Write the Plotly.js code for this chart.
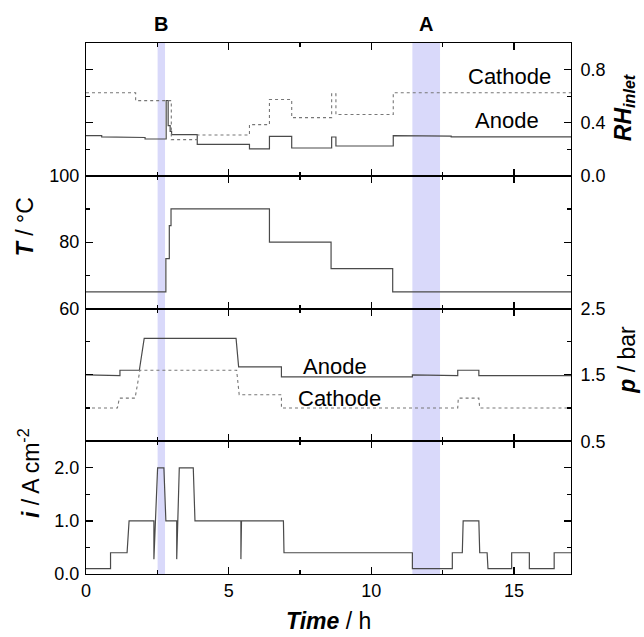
<!DOCTYPE html>
<html>
<head>
<meta charset="utf-8">
<script src="https://cdn.plot.ly/plotly-3.0.1.min.js"></script>
<style>html,body{margin:0;padding:0;background:#fff;}#chart{width:644px;height:637px;}</style>
</head>
<body>
<div id="chart"></div>
<script>
// ---- Data (time in h) ----
// Relative humidity at inlet
const rhAnodeT = [0, 0.55, 0.55, 1.19, 1.19, 2.07, 2.07, 2.81, 2.81, 2.88, 2.88, 2.95, 2.95, 3.0, 3.0, 3.90, 3.90, 5.73, 5.73, 6.43, 6.43, 7.21, 7.21, 8.61, 8.61, 8.76, 8.76, 10.77, 10.77, 12.41, 12.41, 12.8, 12.8, 14.0, 14.0, 15.5, 15.5, 17];
const rhAnodeV = [0.302, 0.302, 0.293, 0.293, 0.288, 0.288, 0.277, 0.277, 0.567, 0.567, 0.378, 0.378, 0.335, 0.335, 0.31, 0.31, 0.237, 0.237, 0.202, 0.202, 0.297, 0.297, 0.209, 0.209, 0.292, 0.292, 0.224, 0.224, 0.302, 0.302, 0.298, 0.298, 0.293, 0.293, 0.298, 0.298, 0.293, 0.293];
const rhCathodeT = [0, 1.74, 1.74, 2.77, 2.99, 2.99, 3.90, 3.90, 5.73, 5.73, 6.43, 6.43, 7.21, 7.21, 8.61, 8.61, 8.76, 8.76, 10.77, 10.77, 17];
const rhCathodeV = [0.625, 0.625, 0.566, 0.566, 0.566, 0.272, 0.272, 0.307, 0.307, 0.385, 0.385, 0.574, 0.574, 0.438, 0.438, 0.617, 0.617, 0.461, 0.461, 0.625, 0.625];
// Temperature
const tempT = [0, 2.80, 2.80, 2.92, 2.92, 2.98, 2.98, 6.43, 6.43, 8.59, 8.59, 10.75, 10.75, 17];
const tempV = [65, 65, 75, 75, 85, 85, 90, 90, 80, 80, 72, 72, 65, 65];
// Pressure
const pAnodeT = [0, 0.49, 0.49, 1.19, 1.19, 1.87, 2.04, 5.26, 5.35, 6.85, 6.85, 11.44, 11.44, 12.4, 12.4, 13.03, 13.03, 13.77, 13.77, 17];
const pAnodeV = [1.5, 1.5, 1.49, 1.49, 1.57, 1.57, 2.05, 2.05, 1.62, 1.62, 1.47, 1.47, 1.5, 1.5, 1.49, 1.49, 1.57, 1.57, 1.49, 1.49];
const pCathodeT = [0, 1.10, 1.17, 1.72, 1.89, 5.28, 5.37, 6.85, 6.85, 13.03, 13.05, 13.77, 13.80, 17];
const pCathodeV = [1.0, 1.0, 1.15, 1.15, 1.57, 1.57, 1.2, 1.2, 1.0, 1.0, 1.15, 1.15, 1.0, 1.0];
// Current density
const curT = [0, 0.86, 0.86, 1.44, 1.51, 2.38, 2.38, 2.51, 2.73, 2.80, 3.18, 3.18, 3.27, 3.76, 3.82, 5.43, 5.43, 5.45, 6.92, 6.94, 11.44, 11.44, 12.84, 12.84, 13.19, 13.22, 13.77, 13.80, 14.06, 14.09, 14.92, 14.92, 15.54, 15.54, 16.41, 16.41, 17];
const curV = [0.1, 0.1, 0.4, 0.4, 1.0, 1.0, 0.28, 2.0, 2.0, 1.0, 1.0, 0.28, 2.0, 2.0, 1.0, 1.0, 0.28, 1.0, 1.0, 0.4, 0.4, 0.1, 0.1, 0.4, 0.4, 1.0, 1.0, 0.4, 0.4, 0.1, 0.1, 0.4, 0.4, 0.1, 0.1, 0.4, 0.4];
// Highlighted intervals
const regionLabels = ['B', 'A'];
const regionStart = [2.51, 11.44];
const regionEnd = [2.77, 12.41];

const FONT = 'Liberation Sans, Arial, sans-serif';
const solid = {color: '#4a4a4a', width: 1.2};
const dotted = {color: '#777', width: 1.1, dash: 'dot'};

const traces = [
  {x: rhAnodeT, y: rhAnodeV, xaxis: 'x', yaxis: 'y', mode: 'lines', line: solid, name: 'RH anode'},
  {x: rhCathodeT, y: rhCathodeV, xaxis: 'x', yaxis: 'y', mode: 'lines', line: dotted, name: 'RH cathode'},
  {x: tempT, y: tempV, xaxis: 'x2', yaxis: 'y2', mode: 'lines', line: solid, name: 'T'},
  {x: pAnodeT, y: pAnodeV, xaxis: 'x3', yaxis: 'y3', mode: 'lines', line: solid, name: 'p anode'},
  {x: pCathodeT, y: pCathodeV, xaxis: 'x3', yaxis: 'y3', mode: 'lines', line: dotted, name: 'p cathode'},
  {x: curT, y: curV, xaxis: 'x4', yaxis: 'y4', mode: 'lines', line: solid, name: 'i'}
];

const tickFont = {family: FONT, size: 18, color: '#000'};
const LW = 1;
function xAx(anchor, labels) {
  const ax = {
    anchor: anchor, domain: [0, 1], range: [0, 17], tickmode: 'linear', tick0: 0, dtick: 5,
    ticks: 'inside', ticklen: 7, tickwidth: 1.2, tickcolor: '#000',
    minor: {ticks: 'inside', dtick: 2.5, tick0: 0, ticklen: 4, tickwidth: 1.2, tickcolor: '#000'},
    showline: true, linecolor: '#000', linewidth: LW, mirror: 'ticks',
    showgrid: false, zeroline: false, showticklabels: labels, tickfont: tickFont
  };
  if (anchor !== 'y4') ax.matches = 'x4';
  return ax;
}
function yAx(anchor, domain, range, tick0, dtick, minor, side, fmt) {
  return {
    anchor: anchor, domain: domain, range: range, side: side, tickmode: 'linear', tick0: tick0, dtick: dtick,
    ticks: 'inside', ticklen: 7, tickwidth: 1.2, tickcolor: '#000',
    minor: {ticks: 'inside', dtick: minor, tick0: tick0, ticklen: 4, tickwidth: 1.2, tickcolor: '#000'},
    showline: true, linecolor: '#000', linewidth: LW, mirror: 'ticks',
    showgrid: false, zeroline: false, tickfont: tickFont, tickformat: fmt,
    ticklabelstandoff: side === 'right' ? 5 : 2
  };
}

const shapes = regionStart.map((s, k) => ({
  type: 'rect', xref: 'x4', yref: 'paper', x0: s, x1: regionEnd[k], y0: 0, y1: 1,
  fillcolor: '#d9d9fa', line: {width: 0}, layer: 'below'
}));

const titleFont = {family: FONT, size: 23, color: '#000'};
const labelFont = {family: FONT, size: 22, color: '#000'};
function ann(o) { return Object.assign({showarrow: false, xanchor: 'center', yanchor: 'middle'}, o); }
const annotations = [
  ...regionLabels.map((t, k) => ann({
    text: '<b>' + t + '</b>', xref: 'x4', yref: 'paper', x: (regionStart[k] + regionEnd[k]) / 2, y: 1.036,
    font: {family: FONT, size: 20, color: '#000'}
  })),
  ann({text: 'Cathode', xref: 'x', yref: 'y', x: 14.86, y: 0.75, font: labelFont}),
  ann({text: 'Anode', xref: 'x', yref: 'y', x: 14.74, y: 0.416, font: labelFont}),
  ann({text: 'Anode', xref: 'x3', yref: 'y3', x: 8.73, y: 1.63, font: labelFont}),
  ann({text: 'Cathode', xref: 'x3', yref: 'y3', x: 8.9, y: 1.14, font: labelFont}),
  ann({text: '<b><i>T</i></b> / °C', xref: 'paper', yref: 'paper', x: -0.1258, y: 0.655, textangle: -90, font: titleFont}),
  ann({text: '<b><i>i</i></b> / A cm<sup>-2</sup>', xref: 'paper', yref: 'paper', x: -0.1175, y: 0.19, textangle: -90, font: titleFont}),
  ann({text: '<b><i>RH<sub>inlet</sub></i></b>', xref: 'paper', yref: 'paper', x: 1.11, y: 0.878, textangle: -90, font: titleFont}),
  ann({text: '<b><i>p</i></b> / bar', xref: 'paper', yref: 'paper', x: 1.115, y: 0.403, textangle: -90, font: titleFont}),
  ann({text: '<b><i>Time</i></b> / h', xref: 'paper', yref: 'paper', x: 0.499, y: -0.0885, font: titleFont})
];

const layout = {
  width: 644, height: 637,
  margin: {l: 86, r: 73, t: 43, b: 63},
  paper_bgcolor: '#fff', plot_bgcolor: 'rgba(0,0,0,0)',
  showlegend: false,
  font: {family: FONT, color: '#000'},
  xaxis: xAx('y', false),
  xaxis2: xAx('y2', false),
  xaxis3: xAx('y3', false),
  xaxis4: xAx('y4', true),
  yaxis: yAx('x', [0.75, 1], [0, 1], 0, 0.4, 0.2, 'right', '.1f'),
  yaxis2: yAx('x2', [0.5, 0.75], [60, 100], 60, 20, 10, 'left', 'd'),
  yaxis3: yAx('x3', [0.25, 0.5], [0.5, 2.5], 0.5, 1, 0.5, 'right', '.1f'),
  yaxis4: yAx('x4', [0, 0.25], [0, 2.5], 0, 1, 0.5, 'left', '.1f'),
  shapes: shapes,
  annotations: annotations
};

Plotly.newPlot('chart', traces, layout, {displayModeBar: false, staticPlot: true});
</script>
</body>
</html>
